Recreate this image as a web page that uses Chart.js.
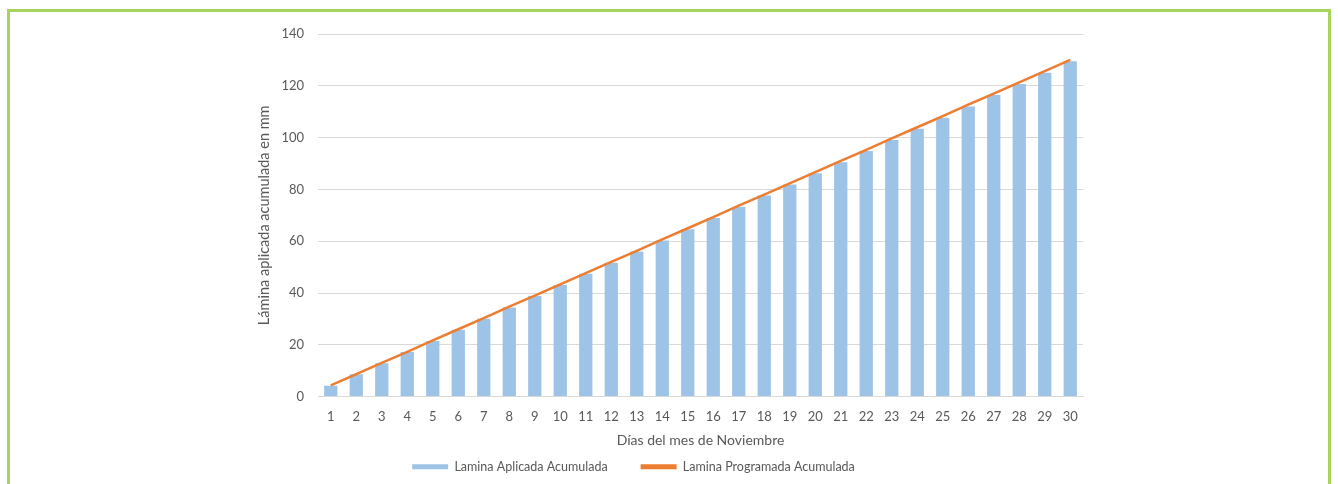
<!DOCTYPE html>
<html>
<head>
<meta charset="utf-8">
<script src="https://cdn.jsdelivr.net/npm/chart.js@4.4.1/dist/chart.umd.min.js"></script>
<style>
  html, body { margin: 0; padding: 0; background: #fff; }
  body { width: 1338px; height: 484px; position: relative; overflow: hidden; }
  #frame {
    position: absolute; left: 7px; top: 9px; width: 1318px; height: 500px;
    border: 3px solid #a6d45c;
  }
  #wrap { position: absolute; left: 0; top: 0; width: 1338px; height: 484px; }
</style>
</head>
<body>
<div id="frame"></div>
<div id="wrap"><canvas id="chart"></canvas></div>
<script>
// ── Data ────────────────────────────────────────────
const days = ['1','2','3','4','5','6','7','8','9','10','11','12','13','14','15',
  '16','17','18','19','20','21','22','23','24','25','26','27','28','29','30'];

// Bars: Lamina Aplicada Acumulada (mm)
const aplicada = [4.2, 8.6, 12.9, 17.2, 21.5, 25.8, 30.1, 34.4, 38.8, 43.1,
  47.4, 51.7, 56.0, 60.3, 64.6, 69.0, 73.3, 77.6, 81.9, 86.2,
  90.5, 94.8, 99.1, 103.4, 107.7, 112.0, 116.4, 120.7, 125.0, 129.5];

// Line: Lamina Programada Acumulada (mm)
const programada = [4.3, 8.7, 13.0, 17.3, 21.7, 26.0, 30.3, 34.7, 39.0, 43.3,
  47.7, 52.0, 56.3, 60.7, 65.0, 69.3, 73.7, 78.0, 82.3, 86.7,
  91.0, 95.3, 99.7, 104.0, 108.3, 112.7, 117.0, 121.3, 125.7, 130.0];

const yTicks = [0, 20, 40, 60, 80, 100, 120, 140];

const FONT = 'Lato, "Open Sans", sans-serif';
const TEXT = '#595959';
const GRID = '#d9d9d9';

// Legend sits a bit higher and left of where Chart.js would put it
const legendNudge = {
  id: 'legendNudge',
  afterInit(chart) {
    const lg = chart.legend;
    const fit = lg.fit.bind(lg);
    lg.fit = function () { fit(); this.height = 35; };
  },
  afterLayout(chart) {
    const lg = chart.legend;
    lg.top -= 21.5;
    lg.bottom = chart.height;
    lg.left -= 36; lg.right -= 36;
  },
};

document.addEventListener('DOMContentLoaded', () => {
  const ctx = document.getElementById('chart').getContext('2d');

  new Chart(ctx, {
    data: {
      labels: days,
      datasets: [
        {
          type: 'bar',
          label: 'Lamina Aplicada Acumulada',
          data: aplicada,
          backgroundColor: '#9dc3e6',
          borderWidth: 0,
          categoryPercentage: 1,
          barPercentage: 0.52,
          order: 2,
        },
        {
          type: 'line',
          label: 'Lamina Programada Acumulada',
          data: programada,
          borderColor: '#ed7d31',
          backgroundColor: '#ed7d31',
          borderWidth: 2.5,
          pointRadius: 0,
          tension: 0,
          order: 1,
        },
      ],
    },
    plugins: [legendNudge],
    options: {
      responsive: true,
      maintainAspectRatio: false,
      animation: false,
      layout: { padding: { left: 256, right: 255, top: 34, bottom: 0 } },
      plugins: {
        tooltip: { enabled: false },
        legend: {
          position: 'bottom',
          labels: {
            color: TEXT,
            font: { family: FONT, size: 12.5 },
            boxWidth: 36,
            boxHeight: 5,
            padding: 33,
            sort: (a, b) => a.datasetIndex - b.datasetIndex,
            generateLabels: chart => {
              const items = Chart.defaults.plugins.legend.labels.generateLabels(chart);
              items.forEach(it => { it.lineWidth = 0; });
              return items;
            },
          },
        },
      },
      scales: {
        x: {
          grid: { display: false, drawTicks: false },
          border: { display: true, color: GRID, width: 1 },
          ticks: { color: TEXT, font: { family: FONT, size: 13 }, padding: 12, maxRotation: 0, autoSkip: false },
          title: {
            display: true,
            text: 'Días del mes de Noviembre',
            color: TEXT,
            font: { family: FONT, size: 14 },
            padding: { top: -4, bottom: 0 },
          },
        },
        y: {
          min: 0,
          max: 140,
          afterBuildTicks: axis => { axis.ticks = yTicks.map(v => ({ value: v })); },
          grid: { color: GRID, drawTicks: false },
          border: { display: false },
          ticks: { color: TEXT, font: { family: FONT, size: 13 }, padding: 14 },
          title: {
            display: true,
            text: 'Lámina aplicada acumulada en mm',
            color: TEXT,
            font: { family: FONT, size: 14.5 },
            padding: { top: 0, bottom: -6 },
          },
        },
      },
    },
  });
});
</script>
</body>
</html>
